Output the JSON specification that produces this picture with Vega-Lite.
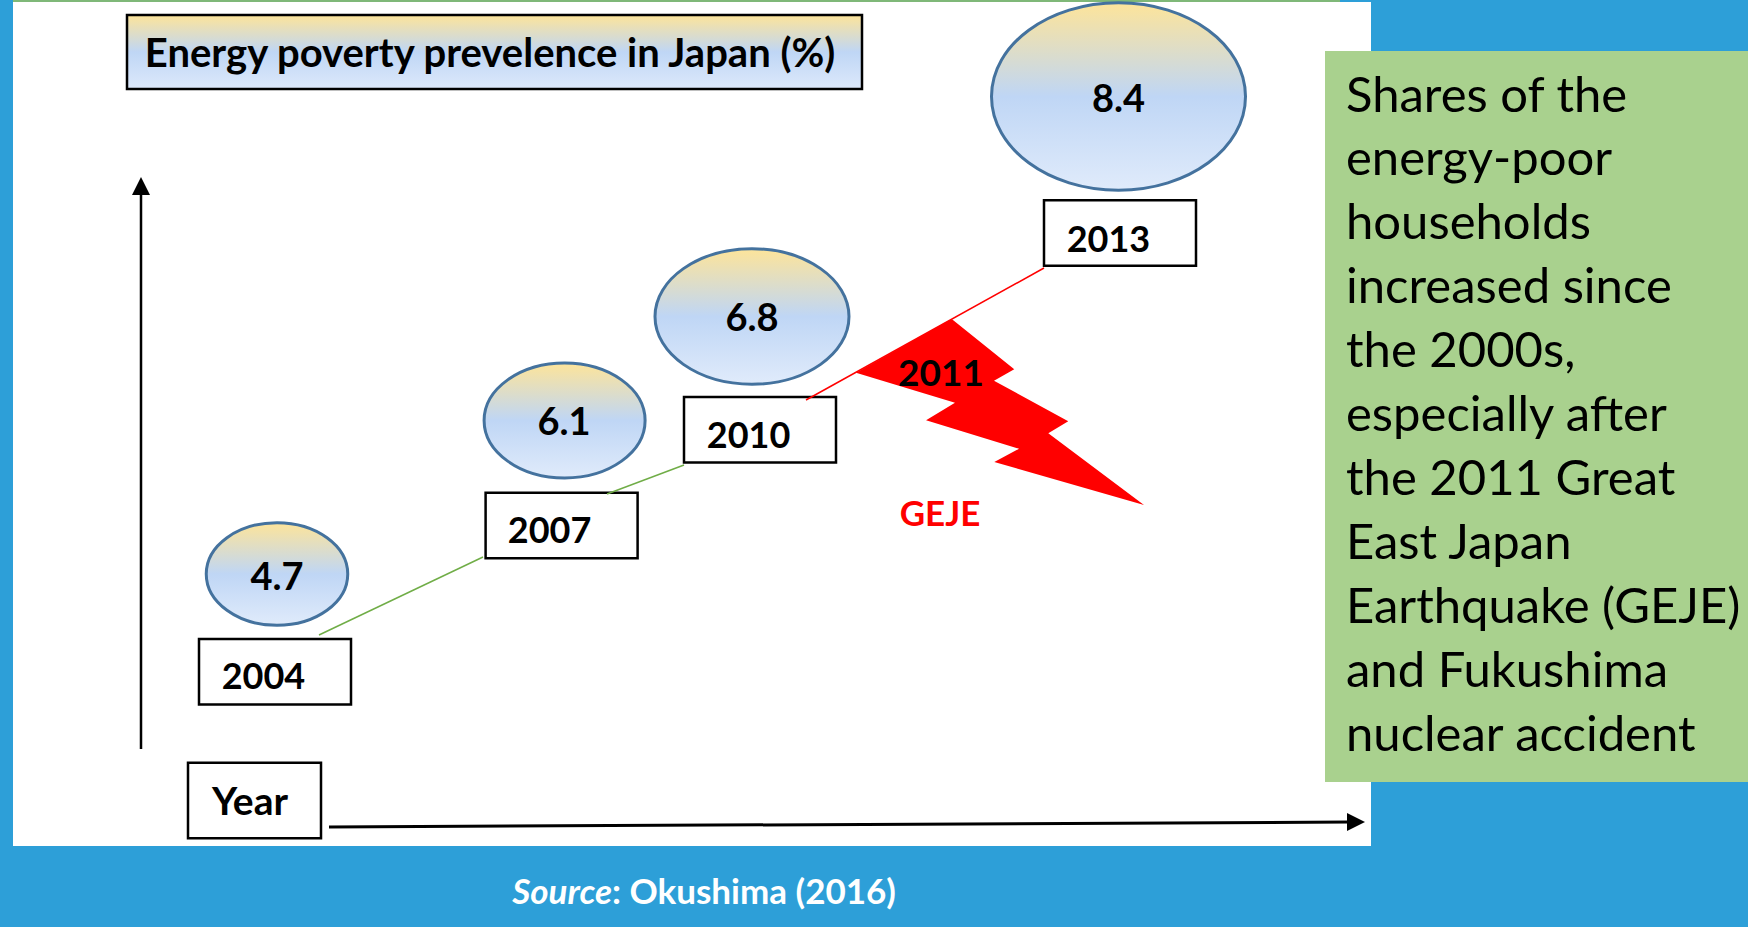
{
"$schema":"https://vega.github.io/schema/vega-lite/v6.json",
"width":1748,"height":927,"padding":0,
"autosize":"none",
"background":"#2D9FD8",
"config":{"view":{"stroke":null},"text":{"font":"Lato"}},
"datasets":{
"shares":[{"year":2004,"share":4.7},{"year":2007,"share":6.1},{"year":2010,"share":6.8},{"year":2013,"share":8.4}],
"segments":[{"from":2004,"to":2007},{"from":2007,"to":2010},{"from":2010,"to":2013}],
"note":[{"line":1,"text":"Shares of the"},{"line":2,"text":"energy-poor"},{"line":3,"text":"households"},{"line":4,"text":"increased since"},{"line":5,"text":"the 2000s,"},{"line":6,"text":"especially after"},{"line":7,"text":"the 2011 Great"},{"line":8,"text":"East Japan"},{"line":9,"text":"Earthquake (GEJE)"},{"line":10,"text":"and Fukushima"},{"line":11,"text":"nuclear accident"}]
},
"resolve":{"scale":{"x":"independent","y":"independent","size":"independent","shape":"independent"}},
"layer":[
{"data":{"values":[{"p":"plot"}]},"mark":{"type":"rect","fill":"#FFFFFF"},"encoding":{"x":{"value":13},"x2":{"value":1371},"y":{"value":2},"y2":{"value":846}}},
{"data":{"values":[{"p":"edge"}]},"mark":{"type":"rect","fill":"#7FB878"},"encoding":{"x":{"value":13},"x2":{"value":1340},"y":{"value":0},"y2":{"value":2}}},
{"data":{"values":[{"p":"note"}]},"mark":{"type":"rect","fill":"#A9D18E"},"encoding":{"x":{"value":1325},"x2":{"value":1748},"y":{"value":51},"y2":{"value":782}}},
{"data":{"values":[{"p":"title"}]},"mark":{"type":"rect","stroke":"#000000","strokeWidth":2.5,"fill":{"gradient":"linear","x1":0,"y1":0,"x2":0,"y2":1,"stops":[{"offset":0,"color":"#FDE49A"},{"offset":0.5,"color":"#BFD6F5"},{"offset":1,"color":"#DDE9FB"}]}},"encoding":{"x":{"value":127},"x2":{"value":862},"y":{"value":15},"y2":{"value":89}}},
{"data":{"values":[{"axis":"share"}]},"mark":{"type":"rule","color":"#000000","strokeWidth":2.5},"encoding":{"x":{"value":141},"x2":{"value":141},"y":{"value":749},"y2":{"value":190}}},
{"data":{"values":[{"axis":"share"}]},"mark":{"type":"point","filled":true,"opacity":1,"color":"#000000","size":324,"shape":"M0,-1L1,1L-1,1Z"},"encoding":{"x":{"value":141},"y":{"value":186}}},
{"data":{"values":[{"axis":"year"}]},"mark":{"type":"rule","color":"#000000","strokeWidth":3},"encoding":{"x":{"value":329},"x2":{"value":1350},"y":{"value":827},"y2":{"value":822}}},
{"data":{"values":[{"axis":"year"}]},"mark":{"type":"point","filled":true,"opacity":1,"color":"#000000","size":324,"shape":"M1,0L-1,1L-1,-1Z"},"encoding":{"x":{"value":1356},"y":{"value":822}}},
{"data":{"values":[{"label":"Year"}]},"mark":{"type":"point","filled":true,"opacity":1,"fill":"#FFFFFF","stroke":"#000000","strokeWidth":2.5,"size":17689,"shape":"M-1,-0.567L1,-0.567L1,0.567L-1,0.567Z"},"encoding":{"x":{"value":254.5},"y":{"value":800.5}}},
{"data":{"values":[{"label":"Year"}]},"mark":{"type":"text","fontSize":39,"fontWeight":"bold","align":"center","baseline":"alphabetic","color":"#000000"},"encoding":{"text":{"field":"label"},"x":{"value":250},"y":{"value":815}}},
{"data":{"name":"shares"},"mark":{"type":"point","filled":true,"opacity":1,"fill":"#FFFFFF","stroke":"#000000","strokeWidth":2.5,"size":23104,"shape":"M-1,-0.43L1,-0.43L1,0.43L-1,0.43Z"},
 "encoding":{"x":{"field":"year","type":"quantitative","axis":null,"scale":{"domain":[2004,2007,2010,2013],"range":[275,561.6,760,1120]}},"y":{"field":"year","type":"quantitative","axis":null,"scale":{"domain":[2004,2007,2010,2013],"range":[671.7,525.5,429.7,233]}}}},
{"data":{"name":"segments"},"transform":[{"filter":"datum.from==2004"}],"mark":{"type":"rule","color":"#70AD47","strokeWidth":1.5},
 "encoding":{"x":{"field":"from","type":"quantitative","axis":null,"scale":{"domain":[2004,2007],"range":[319,483]}},"x2":{"field":"to"},"y":{"field":"from","type":"quantitative","axis":null,"scale":{"domain":[2004,2007],"range":[635,557]}},"y2":{"field":"to"}}},
{"data":{"name":"segments"},"transform":[{"filter":"datum.from==2007"}],"mark":{"type":"rule","color":"#70AD47","strokeWidth":1.5},
 "encoding":{"x":{"field":"from","type":"quantitative","axis":null,"scale":{"domain":[2007,2010],"range":[607,684]}},"x2":{"field":"to"},"y":{"field":"from","type":"quantitative","axis":null,"scale":{"domain":[2007,2010],"range":[494,465]}},"y2":{"field":"to"}}},
{"data":{"name":"segments"},"transform":[{"filter":"datum.from==2010"}],"mark":{"type":"rule","color":"#FF0000","strokeWidth":1.5},
 "encoding":{"x":{"field":"from","type":"quantitative","axis":null,"scale":{"domain":[2010,2013],"range":[806,1044]}},"x2":{"field":"to"},"y":{"field":"from","type":"quantitative","axis":null,"scale":{"domain":[2010,2013],"range":[400,268]}},"y2":{"field":"to"}}},
{"data":{"name":"shares"},"mark":{"type":"point","filled":true,"opacity":1,"stroke":"#44729E","strokeWidth":3,"fill":{"gradient":"linear","x1":0,"y1":0,"x2":0,"y2":1,"stops":[{"offset":0,"color":"#FDE49A"},{"offset":0.5,"color":"#BFD6F5"},{"offset":1,"color":"#E0EBFB"}]}},
 "encoding":{"x":{"field":"year","type":"quantitative","axis":null,"scale":{"domain":[2004,2007,2010,2013],"range":[277,564.6,752,1118.5]}},
 "y":{"field":"share","type":"quantitative","axis":null,"scale":{"domain":[4.7,6.1,6.8,8.4],"range":[574,420.5,316.5,96.5]}},
 "size":{"field":"share","type":"quantitative","legend":null,"scale":{"domain":[4.7,6.1,6.8,8.4],"range":[20022,25921,37636,64516]}},
 "shape":{"field":"share","type":"nominal","legend":null,"scale":{"domain":[4.7,6.1,6.8,8.4],"range":[
 "M-1,0C-1,-0.401,-0.552,-0.726,0,-0.726C0.552,-0.726,1,-0.401,1,0C1,0.401,0.552,0.726,0,0.726C-0.552,0.726,-1,0.401,-1,0Z",
 "M-1,0C-1,-0.394,-0.552,-0.714,0,-0.714C0.552,-0.714,1,-0.394,1,0C1,0.394,0.552,0.714,0,0.714C-0.552,0.714,-1,0.394,-1,0Z",
 "M-1,0C-1,-0.385,-0.552,-0.698,0,-0.698C0.552,-0.698,1,-0.385,1,0C1,0.385,0.552,0.698,0,0.698C-0.552,0.698,-1,0.385,-1,0Z",
 "M-1,0C-1,-0.408,-0.552,-0.738,0,-0.738C0.552,-0.738,1,-0.408,1,0C1,0.408,0.552,0.738,0,0.738C-0.552,0.738,-1,0.408,-1,0Z"]}}}},
{"data":{"name":"shares"},"mark":{"type":"text","fontSize":38,"fontWeight":"bold","align":"center","baseline":"alphabetic","color":"#000000"},
 "encoding":{"text":{"field":"share","type":"quantitative","format":".1f"},"x":{"field":"year","type":"quantitative","axis":null,"scale":{"domain":[2004,2007,2010,2013],"range":[277,564,752,1118.5]}},"y":{"field":"share","type":"quantitative","axis":null,"scale":{"domain":[4.7,6.1,6.8,8.4],"range":[589.5,435,331,111.5]}}}},
{"data":{"name":"shares"},"mark":{"type":"text","fontSize":36,"fontWeight":"bold","align":"center","baseline":"alphabetic","color":"#000000"},
 "encoding":{"text":{"field":"year","type":"nominal"},"x":{"field":"year","type":"quantitative","axis":null,"scale":{"domain":[2004,2007,2010,2013],"range":[263.5,549.6,748.6,1108.5]}},"y":{"field":"year","type":"quantitative","axis":null,"scale":{"domain":[2004,2007,2010,2013],"range":[689,543,448,252]}}}},
{"data":{"values":[{"year":2011,"event":"GEJE"}]},"mark":{"type":"point","filled":true,"opacity":1,"color":"#FF0000","size":90000,"shape":"M-0.322,-0.62L0.095,-0.285L-0.04,-0.209L0.455,0.062L0.322,0.142L0.96,0.62L-0.038,0.333L0.127,0.245L-0.493,0.055L-0.3,-0.062L-0.96,-0.262Z"},
 "encoding":{"x":{"field":"year","type":"quantitative","axis":null,"scale":{"domain":[2011,2012],"range":[1000,1100]}},"y":{"field":"year","type":"quantitative","axis":null,"scale":{"domain":[2011,2012],"range":[412,512]}}}},
{"data":{"values":[{"year":2011,"event":"GEJE"}]},"mark":{"type":"text","fontSize":37,"fontWeight":"bold","align":"center","baseline":"alphabetic","color":"#000000"},
 "encoding":{"text":{"field":"year","type":"nominal"},"x":{"field":"year","type":"quantitative","axis":null,"scale":{"domain":[2011,2012],"range":[941,1041]}},"y":{"field":"year","type":"quantitative","axis":null,"scale":{"domain":[2011,2012],"range":[386,486]}}}},
{"data":{"values":[{"year":2011,"event":"GEJE"}]},"mark":{"type":"text","fontSize":35,"fontWeight":"bold","align":"center","baseline":"alphabetic","color":"#FF0000"},
 "encoding":{"text":{"field":"event"},"x":{"field":"year","type":"quantitative","axis":null,"scale":{"domain":[2011,2012],"range":[940,1040]}},"y":{"field":"year","type":"quantitative","axis":null,"scale":{"domain":[2011,2012],"range":[526,626]}}}},
{"data":{"values":[{"label":"Energy poverty prevelence in Japan (%)"}]},"mark":{"type":"text","fontSize":40,"fontWeight":"bold","align":"center","baseline":"alphabetic","color":"#000000"},"encoding":{"text":{"field":"label"},"x":{"value":490},"y":{"value":67}}},
{"data":{"name":"note"},"mark":{"type":"text","fontSize":49,"align":"left","baseline":"alphabetic","color":"#000000"},
 "encoding":{"text":{"field":"text"},"x":{"value":1346},"y":{"field":"line","type":"quantitative","axis":null,"scale":{"domain":[1,11],"range":[111.5,751]}}}},
{"data":{"values":[{"label":"Source"}]},"mark":{"type":"text","fontSize":35,"fontWeight":"bold","fontStyle":"italic","align":"right","baseline":"alphabetic","color":"#FFFFFF"},"encoding":{"text":{"field":"label"},"x":{"value":612},"y":{"value":904}}},
{"data":{"values":[{"label":": Okushima (2016)"}]},"mark":{"type":"text","fontSize":35,"fontWeight":"bold","align":"left","baseline":"alphabetic","color":"#FFFFFF"},"encoding":{"text":{"field":"label"},"x":{"value":612},"y":{"value":904}}}
]
}
